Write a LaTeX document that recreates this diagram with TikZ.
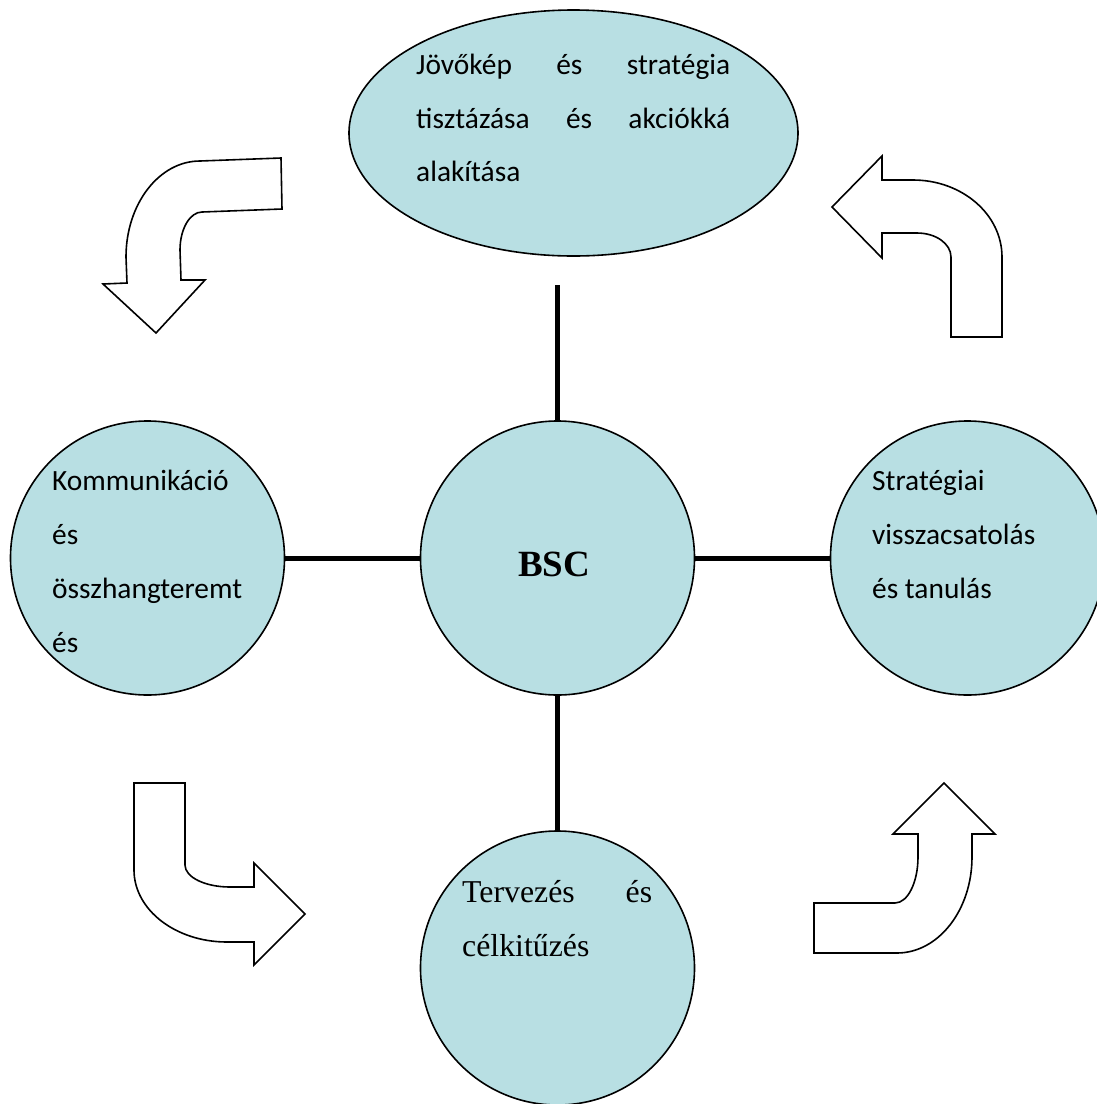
\documentclass[tikz,border=0pt]{standalone}
\usepackage{fontspec}
\setmainfont{Carlito}
\newfontfamily\timesf{Liberation Serif}
\usetikzlibrary{shapes.geometric}
\definecolor{bubblefill}{RGB}{184,223,227}
\tikzset{
  bubble/.style={circle, draw=black, line width=1.6pt, fill=bubblefill, minimum size=274pt, inner sep=0pt},
  oval/.style={ellipse, draw=black, line width=1.6pt, fill=bubblefill, minimum width=449pt, minimum height=246pt, inner sep=0pt},
  link/.style={line width=5pt, draw=black},
  bentarrow/.style={draw=black, line width=1.6pt, fill=white, line join=miter},
  calib/.style={anchor=base west, inner sep=0pt, font=\fontsize{29.4}{35}\selectfont},
  timestxt/.style={anchor=base west, inner sep=0pt, font=\timesf\fontsize{31.8}{37}\selectfont},
}
\begin{document}
\begin{tikzpicture}[x=1pt, y=-1pt]
\useasboundingbox (0,0) rectangle (1097,1104);
\clip (0,0) rectangle (1097,1104);

% nodes
\node[oval] (vision) at (573.5,133) {};
\node[bubble] (bsc) at (557.5,558) {};
\node[bubble] (comm) at (147.5,558) {};
\node[bubble] (feed) at (967.5,558) {};
\node[bubble] (plan) at (557.5,968) {};
\coordinate (topend) at (557.5,285);

% connectors
\draw[link] (topend) -- (bsc.north);
\draw[link] (comm.east) -- (bsc.west);
\draw[link] (bsc.east) -- (feed.west);
\draw[link] (bsc.south) -- (plan.north);

% texts
\node[calib] (v1) at (416,74) {\makebox[314pt][s]{Jövőkép és stratégia}};
\node[calib] (v2) at (416,128) {\makebox[314pt][s]{tisztázása és akciókká}};
\node[calib] (v3) at (416,181) {alakítása};

\node[calib] (c1) at (52,490) {Kommunikáció};
\node[calib] (c2) at (52,544) {és};
\node[calib] (c3) at (52,598) {összhangteremt};
\node[calib] (c4) at (52,652) {és};

\node[calib] (f1) at (872,490) {Stratégiai};
\node[calib] (f2) at (872,544) {visszacsatolás};
\node[calib] (f3) at (872,598) {és tanulás};

\node[timestxt] (p1) at (462,902) {\makebox[190pt][s]{Tervezés és}};
\node[timestxt] (p2) at (462,956) {célkitűzés};

\node[font=\timesf\bfseries\fontsize{37}{44}\selectfont, inner sep=0pt] (bsctext) at (554,564) {BSC};

% bent arrows
\draw[bentarrow] (281,158) -- (282,209) -- (202,212)
  .. controls (189.9,212) and (180,229) .. (180,250)
  -- (181,280) -- (205,280) -- (156,333) -- (103,284) -- (127,283) -- (126,257)
  .. controls (126,204) and (159.1,161) .. (200,161) -- cycle;

\draw[bentarrow] (832,207) -- (882,156) -- (882,180) -- (913,180)
  .. controls (962.2,180) and (1002,214.5) .. (1002,257)
  -- (1002,337) -- (951,337) -- (951,257)
  .. controls (951,243.7) and (935.8,233) .. (917,233)
  -- (882,233) -- (882,258) -- cycle;

\draw[bentarrow] (134,783) -- (185,783) -- (185,865)
  .. controls (185,877.2) and (205.1,887) .. (230,887)
  -- (254,887) -- (254,863) -- (305,914) -- (254,965) -- (254,942) -- (227,942)
  .. controls (175.6,942) and (134,909.8) .. (134,870) -- cycle;

\draw[bentarrow] (944,783) -- (995,834) -- (972,834) -- (972,857)
  .. controls (972,910) and (938.4,953) .. (897,953)
  -- (814,953) -- (814,903) -- (895,903)
  .. controls (907.7,903) and (918,882.4) .. (918,857)
  -- (918,834) -- (893,834) -- cycle;
\end{tikzpicture}
\end{document}
